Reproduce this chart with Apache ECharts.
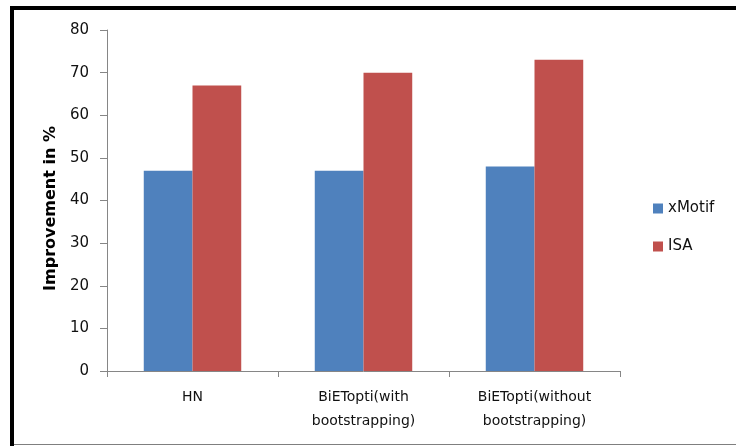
<!DOCTYPE html>
<html>
<head>
<meta charset="utf-8">
<script src="https://cdn.jsdelivr.net/npm/echarts@6/dist/echarts.min.js"></script>
<style>
  html, body { margin: 0; padding: 0; background: #fff; }
  #chart { width: 736px; height: 446px; }
</style>
</head>
<body>
<div id="chart"></div>
<script>
// Improvement of xMotif and ISA over three methods
const categories = ['HN', 'BiETopti(with\nbootstrapping)', 'BiETopti(without\nbootstrapping)'];
const xMotifValues = [47, 47, 48];
const isaValues = [67, 70, 73];
const yTicks = { min: 0, max: 80, interval: 10 };

const font = 'DejaVu Sans';
const chart = echarts.init(document.getElementById('chart'), null, { renderer: 'canvas' });

chart.setOption({
  animation: false,
  backgroundColor: '#ffffff',
  textStyle: { fontFamily: font },
  grid: { left: 107, right: 116, top: 30, bottom: 75 },
  legend: {
    orient: 'vertical',
    left: 648,
    top: 196,
    itemWidth: 10,
    itemHeight: 10,
    itemGap: 23,
    icon: 'rect',
    textStyle: { fontFamily: font, fontSize: 15, color: '#111' },
    data: ['xMotif', 'ISA']
  },
  xAxis: {
    type: 'category',
    data: categories,
    axisLine: { lineStyle: { color: '#868686', width: 1 } },
    axisTick: { show: true, length: 6, lineStyle: { color: '#868686' } },
    axisLabel: { color: '#111', fontSize: 14, lineHeight: 24, margin: 14, interval: 0, fontFamily: font }
  },
  yAxis: {
    type: 'value',
    min: yTicks.min,
    max: yTicks.max,
    interval: yTicks.interval,
    name: 'Improvement in %',
    nameLocation: 'middle',
    nameGap: 48,
    nameTextStyle: { fontFamily: font, fontSize: 16, fontWeight: 'bold', color: '#000', padding: [0, 16, 0, 0] },
    axisLine: { show: true, lineStyle: { color: '#868686', width: 1 } },
    axisTick: { show: true, length: 7, lineStyle: { color: '#868686' } },
    axisLabel: { color: '#111', fontSize: 15, margin: 18, fontFamily: font },
    splitLine: { show: false }
  },
  series: [
    {
      name: 'xMotif',
      type: 'bar',
      data: xMotifValues,
      barGap: '0%',
      barCategoryGap: '43%',
      itemStyle: { color: '#4F81BD' }
    },
    {
      name: 'ISA',
      type: 'bar',
      data: isaValues,
      barGap: '0%',
      barCategoryGap: '43%',
      itemStyle: { color: '#C0504D' }
    }
  ],
  graphic: [
    // outer frame: heavy black left and top edges, thin grey bottom edge
    { type: 'line', shape: { x1: 12, y1: 6, x2: 12, y2: 446 }, style: { stroke: '#000', lineWidth: 4 } },
    { type: 'line', shape: { x1: 10, y1: 8, x2: 736, y2: 8 }, style: { stroke: '#000', lineWidth: 4 } },
    { type: 'line', shape: { x1: 14, y1: 444.5, x2: 736, y2: 444.5 }, style: { stroke: '#7f7f7f', lineWidth: 1 } }
  ]
});
</script>
</body>
</html>
